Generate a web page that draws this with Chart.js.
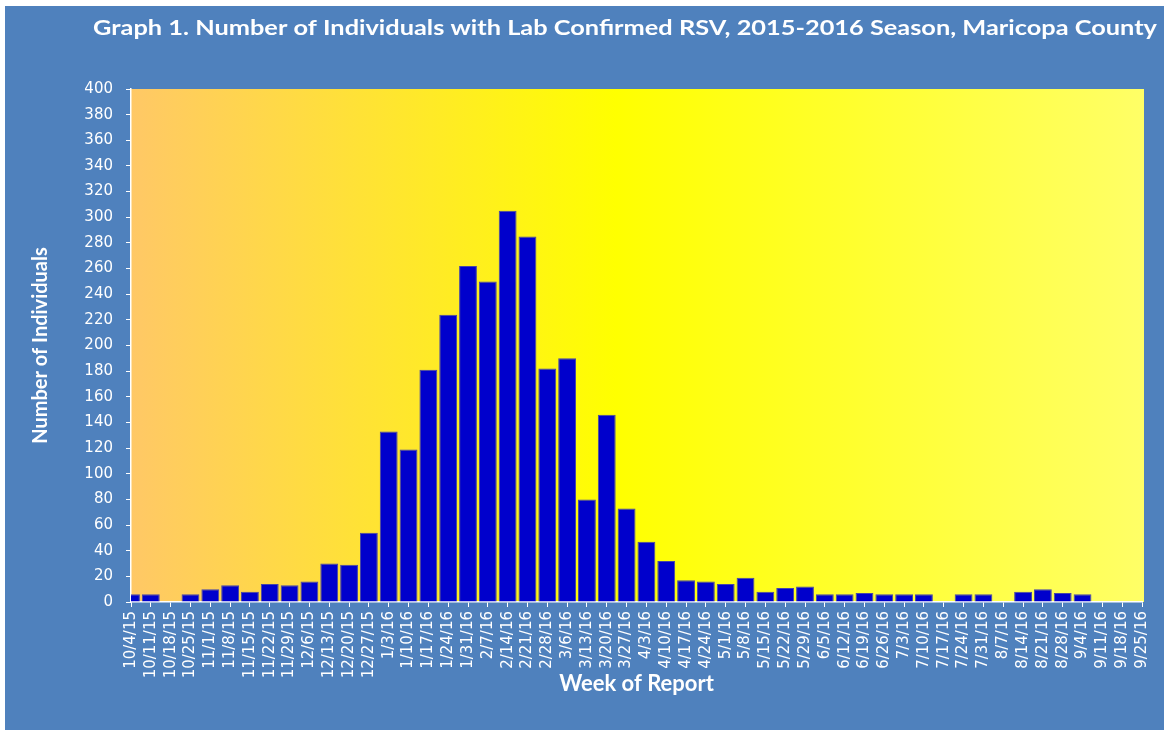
<!DOCTYPE html>
<html>
<head>
<meta charset="utf-8">
<script src="https://cdn.jsdelivr.net/npm/chart.js@4.4.1/dist/chart.umd.min.js"></script>
<style>
  html, body { margin: 0; padding: 0; background: #ffffff; }
  #wrap { width: 1164px; height: 730px; }
</style>
</head>
<body>
<div id="wrap"><canvas id="rsvChart" width="1164" height="730"></canvas></div>
<script>
// weeks of report, 2015-2016 season
var weeks = ["10/4/15", "10/11/15", "10/18/15", "10/25/15", "11/1/15", "11/8/15", "11/15/15",
  "11/22/15", "11/29/15", "12/6/15", "12/13/15", "12/20/15", "12/27/15", "1/3/16", "1/10/16",
  "1/17/16", "1/24/16", "1/31/16", "2/7/16", "2/14/16", "2/21/16", "2/28/16", "3/6/16", "3/13/16",
  "3/20/16", "3/27/16", "4/3/16", "4/10/16", "4/17/16", "4/24/16", "5/1/16", "5/8/16", "5/15/16",
  "5/22/16", "5/29/16", "6/5/16", "6/12/16", "6/19/16", "6/26/16", "7/3/16", "7/10/16", "7/17/16",
  "7/24/16", "7/31/16", "8/7/16", "8/14/16", "8/21/16", "8/28/16", "9/4/16", "9/11/16", "9/18/16",
  "9/25/16"];

// number of individuals with lab confirmed RSV
var individuals = [6, 6, 0, 6, 10, 13, 8, 14, 13, 16, 30, 29, 54, 133, 119, 181, 224, 262, 250,
  305, 285, 182, 190, 80, 146, 73, 47, 32, 17, 16, 14, 19, 8, 11, 12, 6, 6, 7, 6, 6, 6, 0,
  6, 6, 0, 8, 10, 7, 6, 0, 0, 0];

var yTicks = [0, 20, 40, 60, 80, 100, 120, 140, 160, 180, 200, 220, 240, 260, 280, 300, 320, 340, 360, 380, 400];

var titleText = "Graph 1. Number of Individuals with Lab Confirmed RSV, 2015-2016 Season, Maricopa County";

// blue frame, gradient plot area and stretched title
var backdrop = {
  id: 'backdrop',
  beforeDraw: function(chart) {
    var c = chart.ctx, a = chart.chartArea;
    c.save();
    c.fillStyle = '#ffffff';
    c.fillRect(0, 0, chart.width, chart.height);
    c.fillStyle = '#4F81BD';
    c.fillRect(5, 6, chart.width - 5, chart.height - 6);
    var g = c.createLinearGradient(a.left, 0, a.right, 0);
    g.addColorStop(0, '#FFC866');
    g.addColorStop(0.48, '#FFFF00');
    g.addColorStop(1, '#FFFF66');
    c.fillStyle = g;
    c.fillRect(a.left - 1, a.top, a.right - a.left + 3, a.bottom - a.top);
    c.restore();
  },
  afterDraw: function(chart) {
    var c = chart.ctx;
    c.save();
    c.font = 'bold 21px Lato';
    c.fillStyle = '#ffffff';
    c.textBaseline = 'middle';
    var w = c.measureText(titleText).width;
    var target = 1064;
    c.translate(93, 28);
    c.scale(target / w, 1);
    c.fillText(titleText, 0, 0);
    c.restore();
  }
};

var ctx = document.getElementById('rsvChart').getContext('2d');
var rsvChart = new Chart(ctx, {
  type: 'bar',
  data: {
    labels: weeks,
    datasets: [{
      label: 'Number of Individuals',
      data: individuals,
      backgroundColor: '#0000CC',
      borderColor: '#4646A8',
      borderWidth: 1,
      barPercentage: 0.9,
      categoryPercentage: 1.0
    }]
  },
  options: {
    responsive: false,
    animation: false,
    layout: { padding: { top: 89, left: 0, right: 12, bottom: 0 } },
    plugins: {
      legend: { display: false },
      title: { display: false },
      tooltip: { enabled: false }
    },
    scales: {
      x: {
        offset: false,
        border: { color: '#ffffff', width: 1.5 },
        grid: { drawOnChartArea: false, color: '#ffffff', tickLength: 5, offset: false },
        ticks: {
          color: '#ffffff',
          font: { family: 'DejaVu Sans', size: 15 },
          minRotation: 90,
          maxRotation: 90,
          autoSkip: false,
          padding: 4
        },
        title: {
          display: true,
          text: 'Week of Report',
          color: '#ffffff',
          font: { family: 'Lato', size: 22, weight: 'bold' },
          padding: { top: 4, bottom: 33 }
        },
        afterFit: function(scale) { scale.height = 128; }
      },
      y: {
        min: 0,
        max: 400,
        afterBuildTicks: function(scale) {
          scale.ticks = yTicks.map(function(v) { return { value: v }; });
        },
        border: { color: '#ffffff', width: 1.5 },
        grid: { drawOnChartArea: false, color: '#ffffff', tickLength: 5 },
        ticks: {
          color: '#ffffff',
          font: { family: 'DejaVu Sans', size: 15 },
          padding: 13
        },
        title: {
          display: true,
          text: 'Number of Individuals',
          color: '#ffffff',
          font: { family: 'Lato', size: 20, weight: 'bold' },
          padding: { top: 29, bottom: 0 }
        },
        afterFit: function(scale) { scale.width = 131; }
      }
    }
  },
  plugins: [backdrop]
});
</script>
</body>
</html>
